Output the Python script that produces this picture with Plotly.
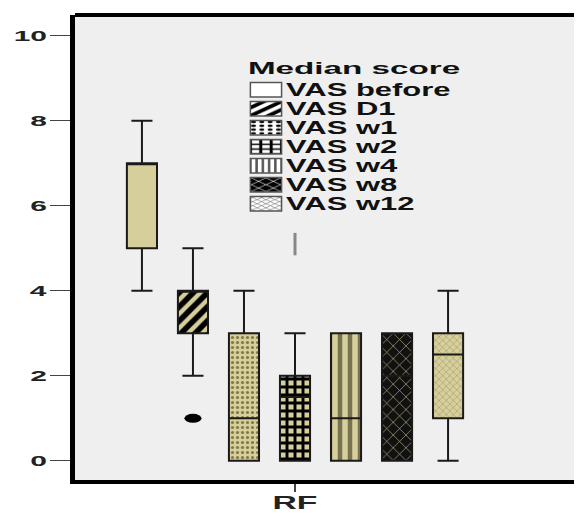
import plotly.graph_objects as go

# ---- data ----
category = ["RF"]
series_names = ["VAS before", "VAS D1", "VAS w1", "VAS w2", "VAS w4", "VAS w8", "VAS w12"]
q1_vals = [5, 3, 0, 0, 0, 0, 1]
median_vals = [7, 4, 1, 1.5, 1, 2, 2.5]
q3_vals = [7, 4, 3, 2, 3, 3, 3]
low_vals = [4, 2, 0, 0, 0, 0, 0]
high_vals = [8, 5, 4, 3, 3, 3, 4]
outliers = [[], [1.0], [], [5.1], [], [], []]
y_ticks = [0, 2, 4, 6, 8, 10]

# ---- styles ----
KHAKI = "#d6ce9b"
FONT = "Liberation Sans"
box_patterns = [
    dict(shape="", bgcolor=KHAKI),
    dict(shape="/", fgcolor="black", bgcolor=KHAKI, size=10, solidity=0.55, fgopacity=1),
    dict(shape=".", fgcolor="#7f7948", bgcolor=KHAKI, size=5, solidity=0.3, fgopacity=1),
    dict(shape="+", fgcolor="black", bgcolor=KHAKI, size=8, solidity=0.6, fgopacity=1),
    dict(shape="|", fgcolor="#777250", bgcolor=KHAKI, size=10, solidity=0.45, fgopacity=1),
    dict(shape="x", fgcolor="#b8b080", bgcolor="#111111", size=9, solidity=0.14, fgopacity=1),
    dict(shape="x", fgcolor="#a9a170", bgcolor=KHAKI, size=5, solidity=0.25, fgopacity=1),
]
legend_patterns = [
    dict(shape="", bgcolor="white"),
    dict(shape="/", fgcolor="black", bgcolor="white", size=6, solidity=0.5, fgopacity=1),
    dict(shape=".", fgcolor="black", bgcolor="white", size=4, solidity=0.3, fgopacity=1),
    dict(shape="+", fgcolor="black", bgcolor="white", size=5, solidity=0.5, fgopacity=1),
    dict(shape="|", fgcolor="#555555", bgcolor="white", size=3, solidity=0.4, fgopacity=1),
    dict(shape="x", fgcolor="white", bgcolor="black", size=5, solidity=0.2, fgopacity=1),
    dict(shape="x", fgcolor="#666666", bgcolor="white", size=3, solidity=0.25, fgopacity=1),
]
outlier_markers = [
    dict(),
    dict(symbol="circle", size=9, color="black"),
    dict(),
    dict(symbol="line-ns", size=16, color="#888888", line=dict(width=3, color="#888888")),
    dict(), dict(), dict(),
]

fig = go.Figure()

# patterned box bodies as bars (base = Q1, height = Q3 - Q1)
for i, name in enumerate(series_names):
    fig.add_trace(go.Bar(
        x=category, y=[q3_vals[i] - q1_vals[i]], base=[q1_vals[i]],
        name=name, showlegend=False, hoverinfo="skip",
        marker=dict(color=box_patterns[i]["bgcolor"], pattern=box_patterns[i],
                    line=dict(width=0)),
    ))

# box outlines, medians, whiskers, outliers
for i, name in enumerate(series_names):
    kw = dict(
        x=category, q1=[q1_vals[i]], median=[median_vals[i]], q3=[q3_vals[i]],
        lowerfence=[low_vals[i]], upperfence=[high_vals[i]],
        name=name, showlegend=False,
        fillcolor="rgba(0,0,0,0)", line=dict(color="#1a1a1a", width=2),
        whiskerwidth=0.7,
    )
    if outliers[i]:
        kw.update(y=[outliers[i]], boxpoints="outliers", pointpos=0, jitter=0,
                  marker=outlier_markers[i])
    else:
        kw.update(boxpoints=False)
    fig.add_trace(go.Box(**kw))

# legend-only swatches (hidden subplot)
for i, name in enumerate(series_names):
    fig.add_trace(go.Bar(
        x=[0], y=[1], name=name, xaxis="x2", yaxis="y2", showlegend=True,
        marker=dict(color=legend_patterns[i]["bgcolor"], pattern=legend_patterns[i],
                    line=dict(width=1.5, color="#555555")),
    ))

fig.update_layout(
    width=582, height=516,
    margin=dict(l=67, r=0, t=7, b=44),
    paper_bgcolor="white", plot_bgcolor="#efefef",
    barmode="group", bargap=0, bargroupgap=0.41,
    boxmode="group", boxgap=0, boxgroupgap=0.41,
    font=dict(family=FONT, color="#222222"),
    xaxis=dict(
        type="category", range=[-0.616, 0.826],
        showline=True, linecolor="black", linewidth=4,
        ticks="outside", ticklen=8, tickwidth=2, tickcolor="#444444",
        tickfont=dict(family=FONT, size=18, weight="bold", color="#222222"),
        showgrid=False, zeroline=False,
    ),
    yaxis=dict(
        range=[-0.45, 10.49], tickvals=y_ticks,
        showline=True, linecolor="black", linewidth=5,
        ticks="outside", ticklen=20, tickwidth=1, tickcolor="#444444",
        tickfont=dict(family=FONT, size=15, weight="bold", color="#222222"),
        showgrid=False, zeroline=False,
    ),
    xaxis2=dict(overlaying="x", range=[10, 11], visible=False),
    yaxis2=dict(overlaying="y", range=[10, 11], visible=False),
    legend=dict(
        x=0.332, y=0.9265, xanchor="left", yanchor="top",
        bgcolor="rgba(0,0,0,0)",
        title=dict(text="Median score", font=dict(family=FONT, size=20, weight="bold", color="#111111")),
        font=dict(family=FONT, size=12, weight="bold", color="#111111"),
        tracegroupgap=0, itemclick=False,
    ),
    shapes=[dict(type="line", xref="paper", yref="paper", x0=0, x1=1, y0=1, y1=1,
                 line=dict(color="black", width=4))],
)

# The reference image is horizontally stretched; widen the rendered text the same way.
post_js = """
var gd = document.querySelector('.plotly-graph-div');
gd.querySelectorAll('.legend [clip-path]').forEach(function(e){ e.removeAttribute('clip-path'); });
function stretch(sel, sx, sy, useAnchor, dy) {
  dy = dy || 0;
  gd.querySelectorAll(sel).forEach(function(t) {
    var b = t.getBBox();
    var ax = b.x + b.width / 2;
    if (useAnchor) {
      var anc = t.getAttribute('text-anchor') || 'start';
      if (anc === 'end') ax = b.x + b.width;
      else if (anc === 'start') ax = b.x;
    }
    var ay = b.y + b.height / 2;
    var tr = t.getAttribute('transform') || '';
    t.setAttribute('transform', tr + ' translate(' + ax + ',' + (ay + dy) + ') scale(' + sx + ',' + sy + ') translate(' + (-ax) + ',' + (-ay) + ')');
  });
}
stretch('.ytick text', 2.0, 1.0, true);
stretch('.xtick text', 1.87, 1.0, true, -5);
stretch('.legendtext', 2.58, 1.5, true);
stretch('.legendtitletext', 1.66, 0.87, true);
gd.querySelectorAll('.legendpoints path').forEach(function(p){ p.style.vectorEffect = 'non-scaling-stroke'; });
stretch('.legendpoints path', 2.6, 1.2, false);
gd.querySelectorAll('.boxlayer .points path').forEach(function(p){
  if ((p.style.fill || '').indexOf('rgb(0, 0, 0)') === 0) {
    var b = p.getBBox(); var cx = b.x + b.width/2, cy = b.y + b.height/2;
    var tr = p.getAttribute('transform') || '';
    p.setAttribute('transform', tr + ' translate(' + cx + ',' + cy + ') scale(1.9,1) translate(' + (-cx) + ',' + (-cy) + ')');
  }
});
"""

fig.write_html("out.html", post_script=post_js)
